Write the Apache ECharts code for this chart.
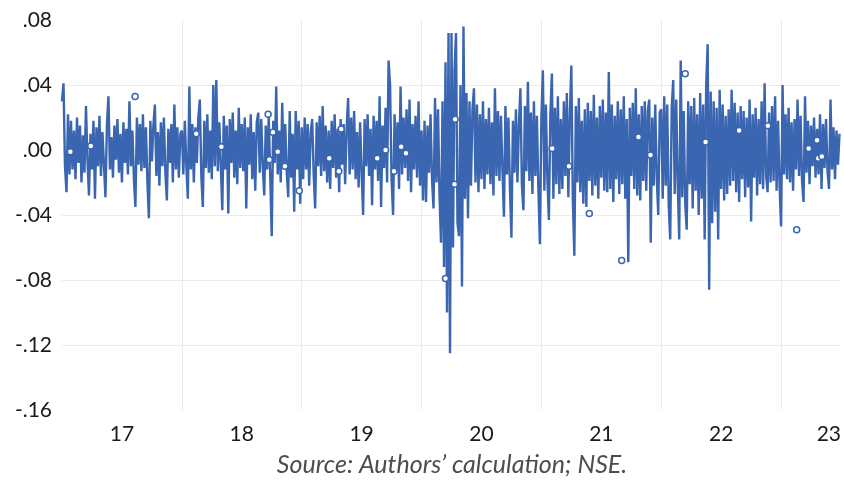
<!DOCTYPE html>
<html lang="en">

<head>
    <meta charset="UTF-8">
    <title>Daily returns</title>
    <script src="https://cdn.jsdelivr.net/npm/echarts@6/dist/echarts.min.js"></script>
    <style>
        html, body { margin: 0; padding: 0; background: #fff; }
        #main { width: 844px; height: 483px; }
    </style>
</head>

<body>
    <div id="main"></div>
    <script>
        // daily returns, one array per calendar year
        const r2017 = [.030, .041, -.010, -.026, .022, -.015, .018, -.012, .012, -.018, .020, -.008, .015, -.020, .009, -.014, .027, -.006, -.028, .010,
            -.012, .018, -.030, .014, -.010, .021, -.016, .011, -.009, -.029, .016, .033, -.012, .008, -.017, .015, -.006, .019, -.014, .010,
            -.020, .017, -.008, .013, -.015, .030, -.010, .012, -.018, -.035, .020, -.009, .016, -.013, .022, -.011, .014, -.019, -.042, .018,
            -.007, .015, .028, -.016, .011, -.022, .017, -.010, .020, -.014, -.031, .013, -.008, .016, -.020, .028, -.012, .014, -.017, .010];
        const r2018 = [.012, -.015, .018, -.010, -.030, .039, -.012, .016, -.020, .014, -.008, .020, .031, -.016, -.035, .018, -.011, .022, -.014, .012,
            -.018, .040, -.010, .043, -.013, .017, -.009, -.037, .021, -.012, .015, -.039, .019, -.008, .023, -.017, .012, -.021, .026, -.011,
            .016, -.013, .020, -.036, .014, -.009, .022, -.018, .011, -.025, .017, .023, -.014, .019, -.010, -.028, .015, -.012, .021, -.016,
            -.053, .018, -.008, .039, -.015, .012, -.020, .029, -.011, .016, -.013, -.029, .024, -.017, .010, -.038, .024, -.012, .018, -.033];
        const r2019 = [.014, -.018, .020, -.012, .016, -.022, .011, .019, -.015, -.036, .017, -.010, .021, -.016, .027, -.013, .015, -.020, .012, -.024,
            .018, -.011, .022, -.017, .013, -.026, .019, -.009, .016, -.021, .014, .032, -.015, .020, -.012, .024, -.018, .011, -.023, .017,
            -.014, -.040, .019, -.010, .022, -.016, .013, -.034, .021, -.012, .018, -.019, .033, -.035, .015, -.011, .026, -.020, .055, .040,
            -.018, -.040, .022, -.013, .017, -.024, .039, -.015, .020, -.011, .025, -.019, .031, -.026, .016, -.012, .021, -.017, .030, -.022];
        const r2020 = [.012, -.031, .018, -.032, .015, -.014, .022, -.018, -.036, .032, -.020, .025, -.028, -.057, .030, -.072, .054, -.100, .072, -.125,
            .072, -.060, .049, .072, -.045, -.053, .040, -.084, .076, -.030, .035, -.042, .030, -.022, .025, .038, -.020, .028, -.026, .022,
            -.018, .030, -.024, .019, -.015, .026, -.021, .017, -.028, .038, -.016, .024, -.019, .021, -.012, -.041, .027, -.015, .020, -.023,
            -.054, .018, -.014, .025, -.020, .016, .038, -.022, -.037, .027, -.013, .042, -.019, .023, -.027, .030, -.016, .021, -.024, -.058];
        const r2021 = [.020, .049, -.025, .028, -.018, -.043, .022, .047, -.030, .026, -.021, .033, -.027, .019, -.024, .030, -.016, .035, -.029, .022,
            .052, -.031, -.065, .027, -.020, .032, -.026, .018, -.033, .025, -.035, .029, -.019, .024, -.028, .034, -.022, .020, -.030, .027,
            -.017, .031, -.025, .023, -.026, .048, -.024, .028, -.032, .021, -.018, .030, -.027, .025, -.021, .033, -.030, .019, -.069, .026,
            -.016, .029, -.024, .038, -.028, .022, -.031, .027, -.019, .030, -.025, .024, .031, -.057, .020, -.022, .028, -.017, -.040, .023];
        const r2022 = [.025, -.030, .033, -.022, .028, -.034, -.055, .026, .043, -.027, .031, -.020, -.055, .055, -.029, .024, -.033, -.049, .030, -.021,
            .027, -.036, .032, -.025, .022, -.040, .035, -.030, .028, -.055, .040, .065, -.086, .036, -.045, .030, -.038, .026, -.055, .037,
            -.024, .028, -.031, .021, -.027, .025, -.022, .037, -.019, .029, -.026, .023, -.032, .027, -.018, .024, -.029, .020, -.023, .031,
            -.044, .022, -.017, .026, -.028, .019, -.021, .030, -.024, .041, -.016, -.026, .023, -.020, .027, -.019, .033, -.025, .018, -.022];
        const r2023 = [-.047, .040, -.015, .022, -.018, .026, -.020, .017, -.025, .019, -.012, .031, -.016, .021, -.019, -.032, .033, -.014, .018, -.021,
            .015, -.010, .020, -.017, .013, -.015, .022, -.024, .016, -.011, .019, -.013, -.024, .031, -.012, .014, -.018, .012, -.009, .010];

        const yearStarts = [2017, 2018, 2019, 2020, 2021, 2022, 2023];
        const yearSpans = [1, 1, 1, 1, 1, 1, 0.5];   // 2023 only runs to mid-year
        const yearReturns = [r2017, r2018, r2019, r2020, r2021, r2022, r2023];

        // the small hollow markers scattered over the line
        const markDates = [2017.07, 2017.24, 2017.61, 2018.12, 2018.33, 2018.72, 2018.76, 2018.80, 2018.73, 2018.86, 2018.98,
            2019.33, 2019.23, 2019.31, 2019.63, 2019.70, 2019.77, 2019.83, 2019.87, 2020.28, 2020.275, 2020.20,
            2021.09, 2021.23, 2021.40, 2021.67, 2021.81, 2021.91, 2022.20, 2022.37, 2022.65, 2022.89,
            2023.13, 2023.23, 2023.30, 2023.31, 2023.34];
        const markValues = [-.001, .0025, .033, .010, .002, .022, .011, -.001, -.006, -.010, -.025,
            .013, -.005, -.013, -.005, .000, -.013, .002, -.002, .019, -.021, -.079,
            .001, -.010, -.039, -.068, .008, -.003, .047, .005, .012, .015,
            -.049, .001, .006, -.005, -.004];

        const yTicks = [-.16, -.12, -.08, -.04, .00, .04, .08];
        const sourceNote = 'Source: Authors\u2019 calculation; NSE.';

        const lineData = [];
        yearReturns.forEach((vals, k) => {
            vals.forEach((v, i) => {
                lineData.push([yearStarts[k] + yearSpans[k] * i / vals.length, v]);
            });
        });
        const markData = markDates.map((d, i) => [d, markValues[i]]);

        const blue = '#3a65b0';
        const labelFont = { fontFamily: 'Lato', fontSize: 21, color: '#1a1a1a' };

        const chart = echarts.init(document.getElementById('main'), null, { renderer: 'canvas' });

        const option = {
            animation: false,
            grid: { left: 62, right: 1, top: 20, bottom: 73 },
            xAxis: [
                {
                    type: 'value',
                    min: 2017,
                    max: 2023.5,
                    interval: 0.5,
                    axisLine: { show: false },
                    axisTick: { show: false },
                    splitLine: { show: false },
                    axisLabel: Object.assign({
                        margin: 14,
                        alignMaxLabel: 'right',
                        showMinLabel: false,
                        formatter: function (v) {
                            // year labels sit in the middle of each year
                            if (Math.round(v * 2) % 2 === 1) {
                                return String(Math.floor(v)).slice(2);
                            }
                            return '';
                        }
                    }, labelFont)
                },
                {
                    type: 'value',
                    min: 2017,
                    max: 2023.5,
                    interval: 1,
                    axisLine: { show: false },
                    axisTick: { show: false },
                    axisLabel: { show: false },
                    splitLine: {
                        show: true,
                        showMinLine: false,
                        showMaxLine: false,
                        lineStyle: { color: '#ebebeb', width: 1 }
                    }
                }
            ],
            yAxis: {
                type: 'value',
                min: yTicks[0],
                max: yTicks[yTicks.length - 1],
                interval: .04,
                axisLine: { show: false },
                axisTick: { show: false },
                splitLine: {
                    show: true,
                    showMinLine: false,
                    showMaxLine: false,
                    lineStyle: { color: '#ebebeb', width: 1 }
                },
                axisLabel: Object.assign({
                    margin: 10,
                    formatter: function (v) {
                        return v.toFixed(2).replace('0.', '.');
                    }
                }, labelFont)
            },
            series: [
                {
                    name: 'Return',
                    type: 'line',
                    xAxisIndex: 0,
                    data: lineData,
                    symbol: 'none',
                    lineStyle: { color: blue, width: 2.4 },
                    z: 2
                },
                {
                    name: 'Marks',
                    type: 'scatter',
                    xAxisIndex: 0,
                    data: markData,
                    symbol: 'circle',
                    symbolSize: 6,
                    itemStyle: { color: '#ffffff', borderColor: blue, borderWidth: 1.5, opacity: 1 },
                    z: 3
                }
            ],
            graphic: [
                {
                    type: 'text',
                    x: 452,
                    y: 465,
                    style: {
                        text: sourceNote,
                        font: 'italic 25px Lato',
                        fill: '#4d4d4d',
                        align: 'center',
                        verticalAlign: 'middle'
                    }
                }
            ]
        };

        chart.setOption(option);
    </script>
</body>

</html>
